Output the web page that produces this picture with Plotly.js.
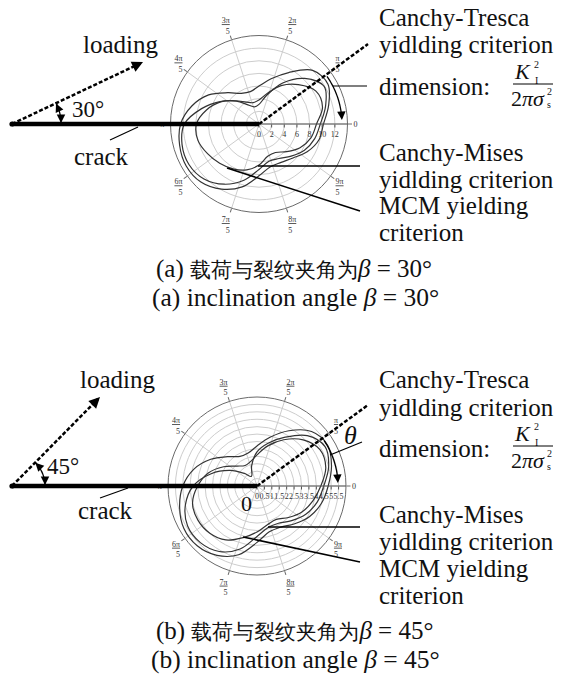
<!DOCTYPE html>
<html>
<head>
<meta charset="utf-8">
<script src="https://cdn.plot.ly/plotly-3.0.1.min.js"></script>
<style>
  html, body { margin: 0; padding: 0; background: #fff; }
  #chart { width: 562px; height: 682px; }
</style>
</head>
<body>
<div id="chart"></div>
<script>
// Polar angle (degrees) at which every yield boundary is sampled
const theta = [0, 15, 30, 45, 60, 75, 90, 105, 120, 135, 150, 165,
               180, 195, 210, 225, 240, 255, 270, 285, 300, 315, 330, 345];

// β = 30°, radius in units of K_I^2 / (2π σs^2)
const trescaA = [10.2, 11.4, 12.6, 12.0, 9.4, 7.4, 6.0, 5.3, 5.6, 7.0, 9.2, 11.0,
                 12.4, 13.0, 13.3, 13.0, 11.9, 10.3, 8.2, 7.0, 7.0, 7.6, 8.8, 9.8];
const misesA  = [9.7, 10.9, 11.9, 10.2, 7.5, 4.7, 3.1, 2.8, 3.5, 5.1, 7.1, 9.4,
                 11.8, 12.6, 12.8, 12.3, 11.0, 9.2, 7.2, 6.1, 6.3, 7.2, 8.3, 9.1];
const mcmA    = [9.1, 10.4, 10.4, 8.8, 7.0, 5.0, 3.8, 3.5, 4.0, 5.2, 7.0, 8.6,
                 9.9, 10.0, 9.4, 8.8, 8.2, 7.5, 6.5, 5.3, 5.2, 6.2, 7.5, 8.5];

// β = 45°
const trescaB = [4.8, 5.2, 5.5, 5.2, 4.3, 3.4, 2.7, 2.3, 2.3, 2.8, 3.6, 4.4,
                 5.0, 5.4, 5.7, 5.7, 5.4, 4.8, 3.8, 3.2, 3.2, 3.6, 4.1, 4.5];
const misesB  = [4.5, 5.0, 5.3, 4.8, 3.8, 3.0, 2.3, 1.4, 0.75, 1.2, 2.1, 3.2,
                 4.3, 5.0, 5.4, 5.4, 5.1, 4.4, 3.4, 2.9, 2.9, 3.3, 3.8, 4.2];
const mcmB    = [4.3, 4.8, 4.9, 4.4, 3.6, 2.8, 2.1, 1.7, 1.6, 1.9, 2.6, 3.4,
                 4.0, 4.5, 4.6, 4.5, 4.2, 3.6, 3.1, 2.7, 2.6, 3.0, 3.5, 3.9];

// Axis ticks
const angTickVals = [0, 36, 72, 108, 144, 180, 216, 252, 288, 324];
const angTickText = ['0', '<u>π</u><br>5', '<u>2π</u><br>5', '<u>3π</u><br>5', '<u>4π</u><br>5',
                     'π', '<u>6π</u><br>5', '<u>7π</u><br>5', '<u>8π</u><br>5', '<u>9π</u><br>5'];
const radTickValsA = [0, 2, 4, 6, 8, 10, 12];
const radTickTextA = ['0', '2', '4', '6', '8', '10', '12'];
const radTickValsB = [0, 0.5, 1, 1.5, 2, 2.5, 3, 3.5, 4, 4.5, 5, 5.5];
const radTickTextB = ['0', '0.5', '1', '1.5', '2', '2.5', '3', '3.5', '4', '4.5', '5', '5.5'];

const SERIF = 'Liberation Serif, serif';
const INK = '#111';
const W = 562, H = 682;
const X = p => p / W;
const Y = p => 1 - p / H;

function boundary(r, subplot, name) {
  return {
    type: 'scatterpolar', subplot: subplot, name: name,
    r: r.concat([r[0]]), theta: theta.concat([360]),
    mode: 'lines', line: { color: '#333', width: 1.2, shape: 'spline', smoothing: 1 },
    hoverinfo: 'skip', showlegend: false
  };
}

const data = [
  boundary(trescaA, 'polar', 'Tresca'),
  boundary(misesA, 'polar', 'Mises'),
  boundary(mcmA, 'polar', 'MCM'),
  boundary(trescaB, 'polar2', 'Tresca'),
  boundary(misesB, 'polar2', 'Mises'),
  boundary(mcmB, 'polar2', 'MCM')
];

function polarAxes(cx, cy, R, range, tv, tt) {
  return {
    domain: { x: [X(cx - R), X(cx + R)], y: [Y(cy + R), Y(cy - R)] },
    bgcolor: 'rgba(0,0,0,0)',
    angularaxis: {
      direction: 'counterclockwise', rotation: 0,
      tickmode: 'array', tickvals: angTickVals, ticktext: angTickText,
      tickfont: { family: SERIF, size: 8, color: '#333' },
      showline: true, linecolor: '#6a6a6a', linewidth: 1,
      showgrid: true, gridcolor: '#cdcdcd', gridwidth: 1,
      ticks: 'outside', ticklen: 4, tickcolor: '#6a6a6a'
    },
    radialaxis: {
      range: range, angle: 0, tickangle: 0,
      tickmode: 'array', tickvals: tv, ticktext: tt,
      tickfont: { family: SERIF, size: 8, color: '#333' },
      showline: true, linecolor: '#555', linewidth: 1,
      showgrid: true, gridcolor: '#cdcdcd', gridwidth: 1,
      ticks: 'outside', ticklen: 3, tickcolor: '#555'
    }
  };
}

const shapes = [];
const annotations = [];

function seg(x0, y0, x1, y1, w, dash) {
  shapes.push({ type: 'line', xref: 'paper', yref: 'paper', layer: 'above',
    x0: X(x0), y0: Y(y0), x1: X(x1), y1: Y(y1),
    line: { color: '#000', width: w, dash: dash || 'solid' } });
}
function arc(cx, cy, R, a0, a1, w) {
  let d = '';
  const n = 24;
  for (let i = 0; i <= n; i++) {
    const a = (a0 + (a1 - a0) * i / n) * Math.PI / 180;
    d += (i ? ' L' : 'M') + X(cx + R * Math.cos(a)).toFixed(5) + ',' + Y(cy - R * Math.sin(a)).toFixed(5);
  }
  shapes.push({ type: 'path', xref: 'paper', yref: 'paper', layer: 'above', path: d,
    line: { color: '#000', width: w } });
}
function dot(cx, cy, r) {
  shapes.push({ type: 'circle', xref: 'paper', yref: 'paper', layer: 'above',
    x0: X(cx - r), x1: X(cx + r), y0: Y(cy + r), y1: Y(cy - r),
    fillcolor: '#000', line: { color: '#000', width: 0 } });
}
function head(x, y, ax, ay, w, size) {
  annotations.push({ xref: 'paper', yref: 'paper', x: X(x), y: Y(y), ax: ax, ay: ay,
    text: '', showarrow: true, arrowhead: 2, arrowsize: size || 1.2, arrowwidth: w || 1.4,
    arrowcolor: '#000', standoff: 0 });
}
function label(x, y, text, size, anchor) {
  annotations.push({ xref: 'paper', yref: 'paper', x: X(x), y: Y(y), text: text,
    showarrow: false, xanchor: anchor || 'center', yanchor: 'middle', borderpad: 0,
    font: { family: SERIF, size: size, color: INK } });
}

// Right-hand legend text with the dimension fraction
function rightColumn(dy) {
  const x = 378;
  label(x, 18 + dy, 'Canchy-Tresca', 25, 'left');
  label(x, 45 + dy, 'yidlding criterion', 25, 'left');
  label(x, 86 + dy, 'dimension:', 25, 'left');
  label(522, 71 + dy, '<i>K</i>', 22, 'center');
  label(536, 64 + dy, '2', 10, 'center');
  label(536, 80 + dy, 'I', 10, 'center');
  seg(513, 84 + dy, 553, 84 + dy, 1);
  label(528, 98.5 + dy, '2<i>πσ</i>', 22, 'center');
  label(549, 91 + dy, '2', 10, 'center');
  label(549, 105 + dy, 's', 10, 'center');
  label(x, 152 + dy, 'Canchy-Mises', 25, 'left');
  label(x, 179 + dy, 'yidlding criterion', 25, 'left');
  label(x, 206 + dy, 'MCM yielding', 25, 'left');
  label(x, 233 + dy, 'criterion', 25, 'left');
}

// ---- panel (a): β = 30° ----
(function () {
  const cx = 259, cy = 124;
  seg(12, cy, cx, cy, 4.5);
  dot(12, cy, 2.6);
  seg(cx, cy, 368, 44, 2.5, '4px,2px');
  seg(12, cy, 140, 63.5, 2.5, '4px,2px');
  head(143, 62, -11, 5.3, 2, 1.1);
  arc(12, cy, 49, 0, 26, 1.3);
  head(61, cy - 1, 0, -7, 1.3, 1.3);
  head(56, 103.5, 3, 6.5, 1.3, 1.3);
  arc(cx, cy, 83, 35, 5, 1.3);
  head(341.9, 120, -0.5, -8, 1.3, 1.3);
  seg(332.8, 86, 367, 86, 1.2);
  seg(258, 166, 360, 166, 1.6);
  seg(227, 168, 360, 211, 1.6);
  seg(110, 140, 138, 127, 1.2);
  label(120, 45, 'loading', 25);
  label(88, 110, '30°', 23);
  label(101, 156, 'crack', 25);
  rightColumn(0);
  label(294, 269, '(a) <span style="font-size:21px">载荷与裂纹夹角为</span><i>β</i> = 30°', 25);
  label(295, 297, '(a) inclination angle <i>β</i> = 30°', 25.5);
})();

// ---- panel (b): β = 45° ----
(function () {
  const cx = 257, cy = 486;
  seg(12, cy, cx, cy, 4.5);
  dot(12, cy, 2.6);
  seg(cx, cy, 368, 405, 2.5, '4px,2px');
  seg(12, cy, 98, 399, 2.5, '4px,2px');
  head(100, 397, -8, 8, 2, 1.1);
  arc(12, cy, 33, 0, 45, 1.3);
  head(45, cy - 1, 0, -7, 1.3, 1.3);
  head(35.3, 462.7, 5, 5, 1.3, 1.3);
  arc(cx, cy, 81, 34, 5, 1.3);
  head(337.9, 483, -0.5, -8, 1.3, 1.3);
  seg(330, 455, 362, 442, 1.2);
  seg(268, 527, 360, 527, 1.6);
  seg(243, 537, 360, 562, 1.6);
  seg(100, 498, 128, 488, 1.2);
  label(117, 380, 'loading', 25);
  label(63, 467, '45°', 23);
  label(105, 510, 'crack', 25);
  label(350, 435, '<i>θ</i>', 26);
  label(246, 503, '0', 22);
  rightColumn(362);
  label(294, 631, '(b) <span style="font-size:21px">载荷与裂纹夹角为</span><i>β</i> = 45°', 25);
  label(295, 659, '(b) inclination angle <i>β</i> = 45°', 25.5);
})();

const layout = {
  width: W, height: H,
  margin: { l: 0, r: 0, t: 0, b: 0 },
  paper_bgcolor: '#fff',
  showlegend: false,
  polar: polarAxes(259, 124, 88.5, [0, 14], radTickValsA, radTickTextA),
  polar2: polarAxes(257, 486, 89, [0, 6], radTickValsB, radTickTextB),
  shapes: shapes,
  annotations: annotations
};

Plotly.newPlot('chart', data, layout, { staticPlot: true, displayModeBar: false });
</script>
</body>
</html>
